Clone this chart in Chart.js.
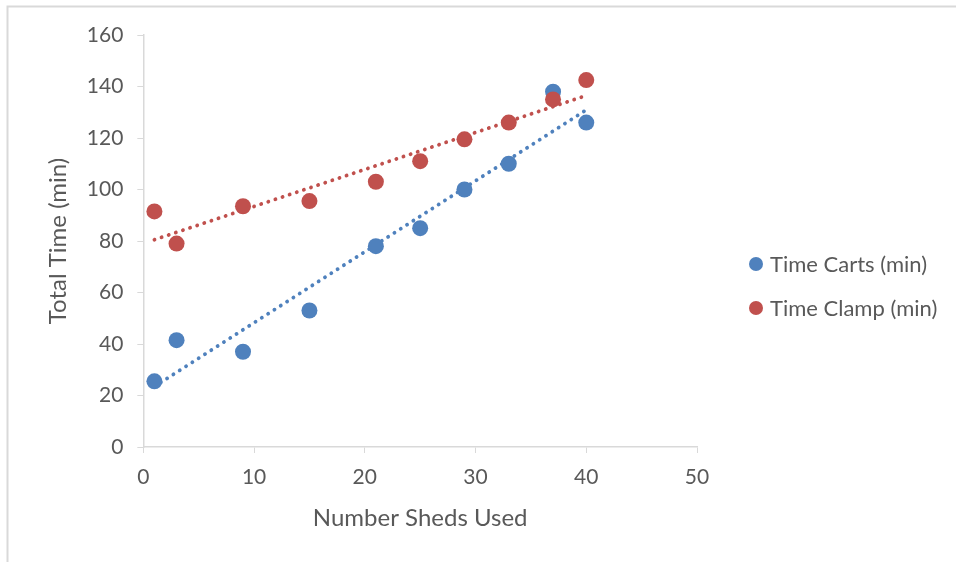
<!DOCTYPE html>
<html>
<head>
<meta charset="utf-8">
<script src="https://cdn.jsdelivr.net/npm/chart.js@4"></script>
<style>
  html, body { margin: 0; padding: 0; background: #fff; }
  #wrap { position: relative; width: 956px; height: 562px; }
</style>
</head>
<body>
<div id="wrap"><canvas id="c" width="956" height="562"></canvas></div>
<script>
// ---- data ----
const shedsUsed = [1, 3, 9, 15, 21, 25, 29, 33, 37, 40];
const timeCarts = [25.5, 41.5, 37, 53, 78, 85, 100, 110, 138, 126];
const timeClamp = [91.5, 79, 93.5, 95.5, 103, 111, 119.5, 126, 135, 142.5];
const seriesNames = ['Time Carts (min)', 'Time Clamp (min)'];
const xTitle = 'Number Sheds Used';
const yTitle = 'Total Time (min)';

const BLUE = '#4f81bd';
const RED = '#c0504d';
const TEXT = '#595959';
const AXIS = '#d9d9d9';
const FONT = 'Lato, "Open Sans", sans-serif';

function points(xs, ys) { return xs.map((x, i) => ({ x: x, y: ys[i] })); }
// linear least-squares trendline over the data range (as the spreadsheet trendline does)
function trend(xs, ys) {
  const n = xs.length;
  const mx = xs.reduce((a, b) => a + b, 0) / n;
  const my = ys.reduce((a, b) => a + b, 0) / n;
  let sxy = 0, sxx = 0;
  for (let i = 0; i < n; i++) { sxy += (xs[i] - mx) * (ys[i] - my); sxx += (xs[i] - mx) ** 2; }
  const m = sxy / sxx, b = my - m * mx;
  const x0 = Math.min(...xs), x1 = Math.max(...xs);
  return [{ x: x0, y: m * x0 + b }, { x: x1, y: m * x1 + b }];
}

const frame = {
  id: 'frame',
  beforeDraw(chart) {
    const ctx = chart.ctx;
    ctx.save();
    ctx.fillStyle = '#fff';
    ctx.fillRect(0, 0, chart.width, chart.height);
    ctx.strokeStyle = '#d9d9d9';
    ctx.lineWidth = 2;
    ctx.beginPath();
    ctx.moveTo(7.5, chart.height);
    ctx.lineTo(7.5, 6.5);
    ctx.lineTo(chart.width, 6.5);
    ctx.stroke();
    ctx.restore();
  }
};

// legend drawn to the right of the plot, using the datasets' own labels and colours
const sideLegend = {
  id: 'sideLegend',
  afterDraw(chart) {
    const ctx = chart.ctx;
    const area = chart.chartArea;
    const cx = area.right + 59, tx = cx + 14;
    const midY = (area.top + area.bottom) / 2 + 45;
    const gap = 44;
    const sets = chart.data.datasets.filter(d => !d.isTrend);
    ctx.save();
    ctx.font = '22px ' + FONT;
    ctx.textBaseline = 'middle';
    ctx.textAlign = 'left';
    sets.forEach((d, i) => {
      const y = midY + (i - (sets.length - 1) / 2) * gap;
      ctx.fillStyle = d.backgroundColor;
      ctx.beginPath();
      ctx.arc(cx, y, 7, 0, Math.PI * 2);
      ctx.fill();
      ctx.fillStyle = TEXT;
      ctx.fillText(d.label, tx, y + 1);
    });
    ctx.restore();
  }
};

const dotted = { borderDash: [0.1, 7.4], borderCapStyle: 'round', borderWidth: 3.8 };

new Chart(document.getElementById('c'), {
  type: 'scatter',
  data: {
    datasets: [
      { label: seriesNames[0], data: points(shedsUsed, timeCarts), backgroundColor: BLUE, borderColor: BLUE,
        pointRadius: 8, pointHoverRadius: 8, pointBorderWidth: 0, order: 1 },
      { label: seriesNames[1], data: points(shedsUsed, timeClamp), backgroundColor: RED, borderColor: RED,
        pointRadius: 8, pointHoverRadius: 8, pointBorderWidth: 0, order: 0 },
      Object.assign({ label: 'trend1', isTrend: true, data: trend(shedsUsed, timeCarts), type: 'line', showLine: true,
        borderColor: BLUE, pointRadius: 0, fill: false, order: 2 }, dotted),
      Object.assign({ label: 'trend2', isTrend: true, data: trend(shedsUsed, timeClamp), type: 'line', showLine: true,
        borderColor: RED, pointRadius: 0, fill: false, order: 2 }, dotted)
    ]
  },
  options: {
    responsive: false,
    animation: false,
    devicePixelRatio: 1,
    layout: { padding: { top: 35, left: 44, right: 259, bottom: 29 } },
    plugins: {
      tooltip: { enabled: false },
      legend: { display: false }
    },
    scales: {
      x: {
        type: 'linear',
        min: 0, max: 50,
        ticks: { stepSize: 10, color: TEXT, font: { family: FONT, size: 21 }, padding: 12 },
        grid: { drawOnChartArea: false, drawTicks: true, tickLength: 6, color: AXIS },
        border: { color: AXIS, width: 1.5 },
        title: { display: true, text: xTitle, color: TEXT, font: { family: FONT, size: 24 }, padding: { top: 2, bottom: 0 } }
      },
      y: {
        type: 'linear',
        min: 0, max: 160,
        ticks: { stepSize: 20, color: TEXT, font: { family: FONT, size: 21 }, padding: 14 },
        grid: { drawOnChartArea: false, drawTicks: true, tickLength: 6, color: AXIS },
        border: { color: AXIS, width: 1.5 },
        title: { display: true, text: yTitle, color: TEXT, font: { family: FONT, size: 24 }, padding: { top: 0, bottom: 0 } }
      }
    }
  },
  plugins: [frame, sideLegend]
});
</script>
</body>
</html>
